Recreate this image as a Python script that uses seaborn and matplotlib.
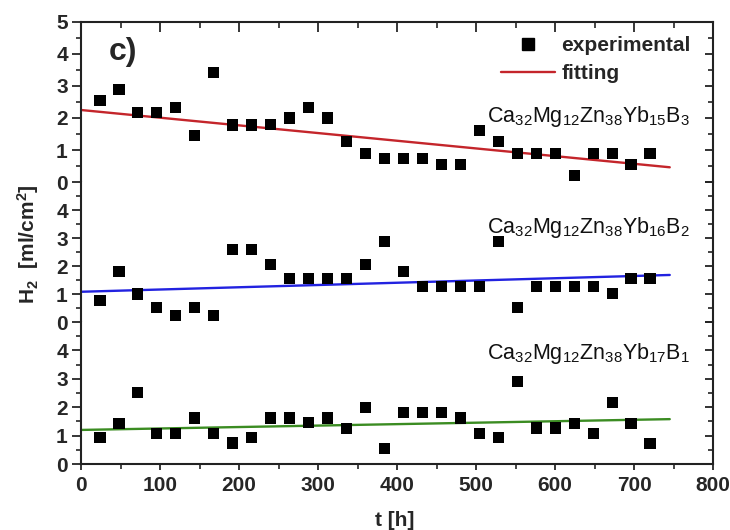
import matplotlib
matplotlib.use("Agg")
import matplotlib.pyplot as plt
import pandas as pd
import seaborn as sns
from matplotlib.ticker import MultipleLocator, FixedLocator
from matplotlib.lines import Line2D

# ---------------- data ----------------
t_hours = [24, 48, 72, 96, 120, 144, 168, 192, 216, 240,
           264, 288, 312, 336, 360, 384, 408, 432, 456, 480,
           504, 528, 552, 576, 600, 624, 648, 672, 696, 720]

h2_b3 = [2.55, 2.90, 2.18, 2.18, 2.33, 1.45, 3.43, 1.78, 1.78, 1.81,
         2.00, 2.33, 2.00, 1.26, 0.90, 0.74, 0.74, 0.74, 0.56, 0.56,
         1.62, 1.26, 0.90, 0.90, 0.90, 0.20, 0.90, 0.90, 0.56, 0.90]

h2_b2 = [0.78, 1.80, 1.00, 0.52, 0.23, 0.52, 0.23, 2.58, 2.58, 2.04,
         1.55, 1.55, 1.55, 1.55, 2.04, 2.87, 1.80, 1.28, 1.28, 1.28,
         1.28, 2.87, 0.52, 1.28, 1.28, 1.28, 1.28, 1.02, 1.55, 1.55]

h2_b1 = [0.92, 1.44, 2.52, 1.09, 1.09, 1.62, 1.09, 0.74, 0.92, 1.62,
         1.62, 1.47, 1.62, 1.25, 2.00, 0.56, 1.81, 1.81, 1.81, 1.62,
         1.09, 0.92, 2.89, 1.27, 1.27, 1.44, 1.09, 2.17, 1.44, 0.72]

fit_t = [0, 745]
fit_b3 = [2.25, 0.46]
fit_b2 = [1.08, 1.68]
fit_b1 = [1.20, 1.58]

labels = ["Ca$_{32}$Mg$_{12}$Zn$_{38}$Yb$_{15}$B$_{3}$",
          "Ca$_{32}$Mg$_{12}$Zn$_{38}$Yb$_{16}$B$_{2}$",
          "Ca$_{32}$Mg$_{12}$Zn$_{38}$Yb$_{17}$B$_{1}$"]
label_y = [1.88, 3.17, 3.68]
fit_colors = ["#c4252b", "#2222e0", "#3b8c22"]
x_ticks = [0, 100, 200, 300, 400, 500, 600, 700, 800]

# ---------------- style ----------------
sns.set_theme(style="ticks")
plt.rcParams["font.family"] = ["Liberation Sans", "DejaVu Sans"]
plt.rcParams["mathtext.default"] = "regular"
plt.rcParams["axes.linewidth"] = 1.5

fig = plt.figure(figsize=(7.3, 5.3), dpi=100)
gs = fig.add_gridspec(3, 1, height_ratios=[160, 140, 142], hspace=0,
                      left=0.111, right=0.977, bottom=0.1245, top=0.9585)
axes = [fig.add_subplot(gs[i]) for i in range(3)]

series = [h2_b3, h2_b2, h2_b1]
fits = [fit_b3, fit_b2, fit_b1]

for i, ax in enumerate(axes):
    df = pd.DataFrame({"t": t_hours, "h2": series[i]})
    fdf = pd.DataFrame({"t": fit_t, "h2": fits[i]})
    sns.lineplot(data=fdf, x="t", y="h2", color=fit_colors[i], lw=1.7, ax=ax,
                 zorder=2)
    sns.scatterplot(data=df, x="t", y="h2", marker="s", color="black", s=64,
                    edgecolor="none", ax=ax, legend=False, zorder=3)
    ax.set_xlim(0, 800)
    ax.set_ylim(0, 5)
    ax.set_xlabel("")
    ax.set_ylabel("")
    for sp in ax.spines.values():
        sp.set_color("#222222")
        sp.set_linewidth(1.5)
    if i > 0:
        ax.spines["top"].set_visible(False)
    if i < 2:
        ax.spines["bottom"].set_visible(False)

    # y ticks
    if i == 0:
        ax.yaxis.set_major_locator(FixedLocator([0, 1, 2, 3, 4, 5]))
    else:
        ax.yaxis.set_major_locator(FixedLocator([0, 1, 2, 3, 4]))
    ax.yaxis.set_minor_locator(FixedLocator([0.5, 1.5, 2.5, 3.5, 4.5]))
    ax.tick_params(axis="y", which="major", direction="out", length=6.5,
                   width=1.3, pad=3, labelsize=15, right=False, left=True)
    ax.tick_params(axis="y", which="minor", direction="out", length=3.5,
                   width=1.2, left=True, right=False)
    for lab in ax.get_yticklabels():
        lab.set_fontweight("bold")

    # right ticks (inward) via twin axis
    axr = ax.twinx()
    axr.set_ylim(0, 5)
    for sp in axr.spines.values():
        sp.set_visible(False)
    axr.yaxis.set_major_locator(FixedLocator([0, 1, 2, 3, 4, 5]))
    axr.yaxis.set_minor_locator(FixedLocator([0.5, 1.5, 2.5, 3.5, 4.5]))
    axr.tick_params(axis="y", which="major", direction="in", length=6,
                    width=1.3, labelright=False, right=True, left=False,
                    color="#222222")
    axr.tick_params(axis="y", which="minor", direction="in", length=3.5,
                    width=1.2, right=True, left=False, color="#222222")
    axr.tick_params(axis="x", which="both", bottom=False, top=False,
                    labelbottom=False)
    axr.grid(False)

    ax.xaxis.set_major_locator(FixedLocator(x_ticks))
    ax.xaxis.set_minor_locator(MultipleLocator(50))
    if i == 2:
        ax.tick_params(axis="x", which="major", direction="out", length=4.5,
                       width=1.3, pad=4, labelsize=15, top=False)
        ax.tick_params(axis="x", which="minor", direction="out", length=3.5,
                       width=1.2, top=False)
        for lab in ax.get_xticklabels():
            lab.set_fontweight("bold")
    elif i == 0:
        ax.tick_params(axis="x", which="both", bottom=False, labelbottom=False,
                       top=True, direction="in")
        ax.tick_params(axis="x", which="major", length=7, width=1.3)
        ax.tick_params(axis="x", which="minor", length=4, width=1.2)
    else:
        ax.tick_params(axis="x", which="both", bottom=False, labelbottom=False,
                       top=False)

    ax.text(771, label_y[i], labels[i], ha="right", va="baseline",
            fontsize=15.5, color="#111111")

# legend
handles = [Line2D([], [], marker="s", color="black", linestyle="none",
                  markersize=8),
           Line2D([], [], color=fit_colors[0], lw=1.7)]
leg = fig.legend(handles, ["experimental", "fitting"], loc="upper left",
                 bbox_to_anchor=(0.686, 0.932), frameon=False,
                 prop={"weight": "bold", "size": 15}, handlelength=2.6,
                 handletextpad=0.3, labelspacing=0.45, borderpad=0,
                 borderaxespad=0)

fig.text(0.149, 0.902, "c)", fontsize=23, fontweight="bold", ha="left",
         va="center")
fig.text(0.038, 0.54, "H$_2$  [ml/cm$^2$]", rotation=90, fontsize=15,
         fontweight="bold", ha="center", va="center")
fig.text(0.54, 0.018, "t [h]", fontsize=15, fontweight="bold", ha="center",
         va="center")

fig.savefig("out.png", dpi=100)
